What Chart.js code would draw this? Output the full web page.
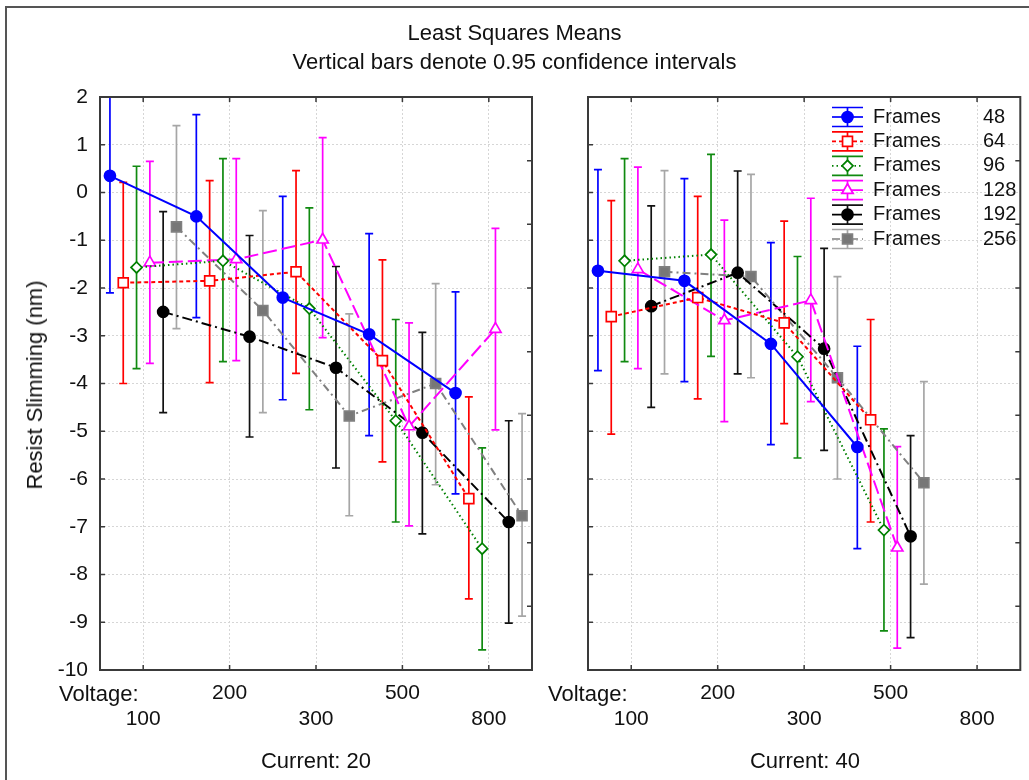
<!DOCTYPE html>
<html>
<head>
<meta charset="utf-8">
<script src="https://cdn.jsdelivr.net/npm/chart.js@4.4.1/dist/chart.umd.min.js"></script>
<style>
  body { margin: 0; background: #fff; }
  #wrap { position: relative; width: 1029px; height: 780px; overflow: hidden;
          font-family: 'Liberation Sans', Arial, sans-serif; color: #111; }
  #wrap canvas { position: absolute; top: 0; }
  .txt { position: absolute; font-size: 22px; line-height: 22px; white-space: nowrap; }
  #frame { position: absolute; left: 5px; top: 6px; width: 1100px; height: 900px;
           border-left: 2px solid #555; border-top: 2px solid #555; }
</style>
</head>
<body>
<div id="wrap">
  <div id="frame"></div>
  <canvas id="c20" width="560" height="780" style="left:0"></canvas>
  <canvas id="c40" width="469" height="780" style="left:560px"></canvas>
  <div class="txt" style="left:0;width:1029px;text-align:center;top:22px">Least Squares Means</div>
  <div class="txt" style="left:0;width:1029px;text-align:center;top:51px">Vertical bars denote 0.95 confidence intervals</div>
  <div class="txt" style="left:35px;top:385px;transform:translate(-50%,-50%) rotate(-90deg)">Resist Slimming (nm)</div>
  <div class="txt" style="left:59px;top:683px">Voltage:</div>
  <div class="txt" style="left:548px;top:683px">Voltage:</div>
  <div class="txt" style="left:316px;top:750px;transform:translateX(-50%)">Current: 20</div>
  <div class="txt" style="left:805px;top:750px;transform:translateX(-50%)">Current: 40</div>
</div>
<script>
// ── Data ──
const voltages = ['100', '200', '300', '500', '800'];
const frames = ['48', '64', '96', '128', '192', '256'];

// Current: 20 — one row per frames series, one column per voltage
const c20Mean = [
  [0.35, -0.50, -2.20, -2.97, -4.20],
  [-1.89, -1.85, -1.66, -3.52, -6.41],
  [-1.57, -1.43, -2.43, -4.78, -7.46],
  [-1.47, -1.40, -0.99, -4.90, -2.86],
  [-2.50, -3.02, -3.67, -5.03, -6.90],
  [-0.72, -2.47, -4.68, -4.00, -6.77]
];
const c20Lo = [
  [-2.10, -2.62, -4.34, -5.09, -6.31],
  [-4.00, -3.98, -3.79, -5.64, -8.51],
  [-3.69, -3.54, -4.55, -6.90, -9.58],
  [-3.58, -3.52, -3.04, -6.98, -4.97],
  [-4.61, -5.12, -5.77, -7.15, -9.02],
  [-2.85, -4.61, -6.77, -6.12, -8.87]
];
const c20Hi = [
  [2.80, 1.63, -0.08, -0.86, -2.08],
  [0.21, 0.25, 0.46, -1.41, -4.28],
  [0.55, 0.71, -0.32, -2.66, -5.35],
  [0.65, 0.71, 1.15, -2.73, -0.75],
  [-0.40, -0.90, -1.55, -2.93, -4.78],
  [1.40, -0.38, -2.54, -1.91, -4.63]
];

// Current: 40 — no data at 800
const c40Mean = [
  [-1.64, -1.85, -3.17, -5.33, null],
  [-2.60, -2.20, -2.73, -4.76, null],
  [-1.43, -1.30, -3.44, -7.07, null],
  [-1.61, -2.68, -2.26, -7.44, null],
  [-2.38, -1.68, -3.27, -7.20, null],
  [-1.66, -1.76, -3.88, -6.08, null]
];
const c40Lo = [
  [-3.73, -3.96, -5.28, -7.46, null],
  [-5.06, -4.32, -4.84, -6.90, null],
  [-3.54, -3.43, -5.56, -9.18, null],
  [-3.69, -4.80, -4.38, -9.54, null],
  [-4.50, -3.80, -5.40, -9.32, null],
  [-3.80, -3.88, -6.00, -8.20, null]
];
const c40Hi = [
  [0.48, 0.29, -1.05, -3.22, null],
  [-0.17, -0.08, -0.60, -2.66, null],
  [0.71, 0.80, -1.34, -4.95, null],
  [0.53, -0.58, -0.12, -5.32, null],
  [-0.28, 0.45, -1.17, -5.09, null],
  [0.46, 0.38, -1.76, -3.96, null]
];

// ── Look of each frames series ──
const styles = [
  { color: '#0000ff', bar: '#0000ff', dash: [],            point: 'circle',   fill: '#0000ff', r: 5.5 },
  { color: '#ff0000', bar: '#ff0000', dash: [4, 3],        point: 'rect',     fill: '#ffffff', r: 7 },
  { color: '#008000', bar: '#108a10', dash: [1.5, 3],      point: 'rectRot',  fill: '#ffffff', r: 5.5 },
  { color: '#ff00ff', bar: '#ff00ff', dash: [14, 5],       point: 'triangle', fill: '#ffffff', r: 6.5 },
  { color: '#000000', bar: '#111111', dash: [10, 4, 2, 4], point: 'circle',   fill: '#000000', r: 5.5 },
  { color: '#808080', bar: '#a6a6a6', dash: [8, 4, 2, 4],  point: 'rect',     fill: '#777777', r: 7 }
];
const seriesStep = 0.154; // horizontal spread of the six series inside one voltage slot

Chart.defaults.font.family = "'Liberation Sans', Arial, sans-serif";
Chart.defaults.font.size = 21;
Chart.defaults.color = '#111';

// ── Confidence interval bars, drawn under lines and markers ──
const errorBars = {
  id: 'errorBars',
  beforeDatasetsDraw(chart) {
    const { ctx, chartArea: a, scales: { x, y } } = chart;
    ctx.save();
    ctx.beginPath();
    ctx.rect(a.left, a.top, a.right - a.left, a.bottom - a.top);
    ctx.clip();
    ctx.lineWidth = 1.7;
    ctx.setLineDash([]);
    chart.data.datasets.forEach((ds, s) => {
      ctx.strokeStyle = styles[s].bar;
      ds.data.forEach(p => {
        const px = x.getPixelForValue(p.x);
        const top = y.getPixelForValue(p.hi);
        const bot = y.getPixelForValue(p.lo);
        ctx.beginPath();
        ctx.moveTo(px, top); ctx.lineTo(px, bot);
        ctx.moveTo(px - 4, top); ctx.lineTo(px + 4, top);
        ctx.moveTo(px - 4, bot); ctx.lineTo(px + 4, bot);
        ctx.stroke();
      });
    });
    ctx.restore();
  }
};

// ── Plot box with inward tick marks ──
const frameTicks = {
  id: 'frameTicks',
  afterDraw(chart) {
    const { ctx, chartArea: a, scales: { x, y } } = chart;
    ctx.save();
    ctx.setLineDash([]);
    ctx.strokeStyle = '#3a3a3a';
    ctx.lineWidth = 2;
    ctx.strokeRect(a.left, a.top, a.right - a.left, a.bottom - a.top);
    ctx.lineWidth = 1.5;
    ctx.beginPath();
    x.ticks.forEach(t => {
      const px = x.getPixelForValue(t.value);
      ctx.moveTo(px, a.bottom); ctx.lineTo(px, a.bottom - 5);
      ctx.moveTo(px, a.top); ctx.lineTo(px, a.top + 5);
    });
    y.ticks.forEach(t => {
      const py = y.getPixelForValue(t.value);
      ctx.moveTo(a.left, py); ctx.lineTo(a.left + 5, py);
    });
    // the right edge carries its own 9 even divisions
    for (let k = 1; k < 9; k++) {
      const py = a.top + k * (a.bottom - a.top) / 9;
      ctx.moveTo(a.right, py); ctx.lineTo(a.right - 5, py);
    }
    ctx.stroke();
    ctx.restore();
  }
};

// ── Legend in the right panel: error bar glyph + marker, "Frames", count ──
const framesLegend = {
  id: 'framesLegend',
  afterDraw(chart) {
    const { ctx, chartArea: a } = chart;
    ctx.save();
    frames.forEach((f, i) => {
      const st = styles[i];
      const x0 = a.left + 244, x1 = x0 + 31, xc = (x0 + x1) / 2;
      const yy = a.top + 20 + i * 24.4;
      ctx.lineWidth = 1.7;
      ctx.setLineDash([]);
      ctx.strokeStyle = st.bar;
      ctx.beginPath();
      ctx.moveTo(x0, yy - 9.5); ctx.lineTo(x1, yy - 9.5);
      ctx.moveTo(x0, yy + 9.5); ctx.lineTo(x1, yy + 9.5);
      ctx.moveTo(xc, yy - 9.5); ctx.lineTo(xc, yy + 9.5);
      ctx.stroke();
      ctx.setLineDash(st.dash);
      ctx.strokeStyle = st.color;
      ctx.beginPath();
      ctx.moveTo(x0, yy); ctx.lineTo(x1, yy);
      ctx.stroke();
      ctx.setLineDash([]);
      ctx.fillStyle = st.fill;
      ctx.strokeStyle = st.color;
      Chart.helpers.drawPoint(ctx, { pointStyle: st.point, radius: st.r, borderWidth: 1.5, rotation: 0 }, xc, yy);
      ctx.fillStyle = '#111';
      ctx.font = "20px 'Liberation Sans', Arial, sans-serif";
      ctx.textBaseline = 'middle';
      ctx.textAlign = 'left';
      ctx.fillText('Frames', a.left + 285, yy);
      ctx.fillText(f, a.left + 395, yy);
    });
    ctx.restore();
  }
};

function buildDatasets(means, lo, hi) {
  return frames.map((f, s) => {
    const st = styles[s];
    const pts = [];
    means[s].forEach((v, i) => {
      if (v === null) return;
      pts.push({ x: i + (s - 2.5) * seriesStep, y: v, lo: lo[s][i], hi: hi[s][i] });
    });
    return {
      label: 'Frames ' + f,
      data: pts,
      borderColor: st.color,
      borderWidth: 2,
      borderDash: st.dash,
      backgroundColor: st.fill,
      pointStyle: st.point,
      pointRadius: st.r,
      pointBorderColor: st.color,
      pointBackgroundColor: st.fill,
      pointBorderWidth: 1.7,
      tension: 0,
      fill: false
    };
  });
}

function makePanel(id, means, lo, hi, isRight) {
  const grid = { color: '#d6d6d6', lineWidth: 1, drawTicks: false };
  return new Chart(document.getElementById(id), {
    type: 'line',
    data: { datasets: buildDatasets(means, lo, hi) },
    options: {
      responsive: false,
      animation: false,
      devicePixelRatio: 1,
      layout: { padding: { top: 97, right: isRight ? 8 : 28, left: 0, bottom: 0 } },
      plugins: { legend: { display: false }, tooltip: { enabled: false } },
      scales: {
        x: {
          type: 'linear',
          min: -0.5,
          max: 4.5,
          afterBuildTicks: s => { s.ticks = voltages.map((v, i) => ({ value: i })); },
          afterFit: s => { s.height = 110; s.paddingLeft = 0; s.paddingRight = 0; },
          grid: grid,
          border: { display: false, dash: [2, 2] },
          ticks: {
            padding: 11,
            maxRotation: 0,
            autoSkip: false,
            font: { size: 21, lineHeight: 1.2 },
            // staggered labels: 200 and 500 on the first row, 100/300/800 on the second
            callback: v => v % 2 === 0 ? ['', voltages[v]] : [voltages[v], '']
          }
        },
        y: {
          min: -10,
          max: 2,
          afterFit: s => { s.width = isRight ? 28 : 100; s.paddingTop = 0; s.paddingBottom = 0; },
          grid: grid,
          border: { display: false, dash: [2, 2] },
          ticks: { stepSize: 1, padding: 12, display: !isRight, font: { size: 21 } }
        }
      }
    },
    plugins: isRight ? [errorBars, frameTicks, framesLegend] : [errorBars, frameTicks]
  });
}

makePanel('c20', c20Mean, c20Lo, c20Hi, false);
makePanel('c40', c40Mean, c40Lo, c40Hi, true);
</script>
</body>
</html>
